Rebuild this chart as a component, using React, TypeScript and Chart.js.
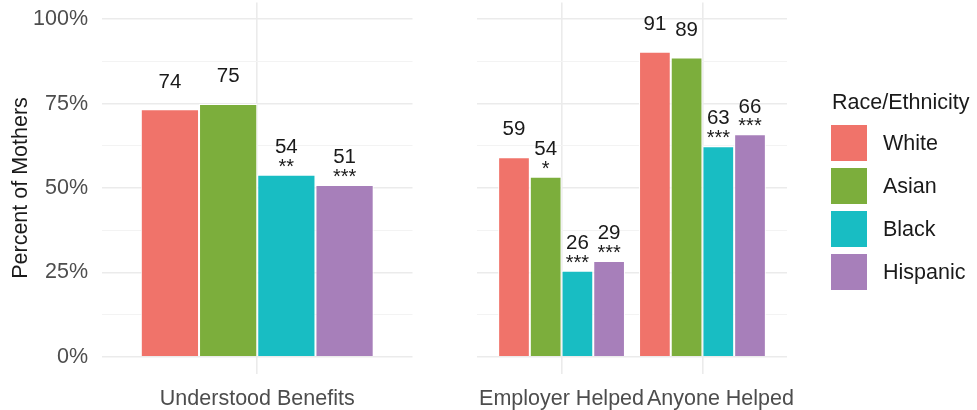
import React, { useEffect, useRef } from 'react';
import { Chart, registerables } from 'chart.js';

Chart.register(...registerables);

// ---------- data ----------
const groups = ['White', 'Asian', 'Black', 'Hispanic'];
const groupColors = ['#F0736A', '#7CAE3C', '#18BDC3', '#A77FBA'];

const leftCategories = ['Understood Benefits'];
const rightCategories = ['Employer Helped', 'Anyone Helped'];

// bar heights (percent of mothers)
const understoodValues = [73.3, 74.9, 53.9, 50.9];
const employerValues = [59.1, 53.3, 25.5, 28.4];
const anyoneValues = [90.4, 88.7, 62.4, 65.9];

// printed value labels and significance stars
const understoodLabels = ['74', '75', '54', '51'];
const understoodStars = ['', '', '**', '***'];
const employerLabels = ['59', '54', '26', '29'];
const employerStars = ['', '*', '***', '***'];
const anyoneLabels = ['91', '89', '63', '66'];
const anyoneStars = ['', '', '***', '***'];

const yTickValues = [0, 12.5, 25, 37.5, 50, 62.5, 75, 87.5, 100];
const yMajorStep = 25;
const yMin = -5;
const yMax = 105;
const yTitle = 'Percent of Mothers';
const legendTitle = 'Race/Ethnicity';

// ---------- styles ----------
const FONT = '"Liberation Sans", Arial, Helvetica, sans-serif';
const MAJOR = '#ebebeb';
const MINOR = '#f3f3f3';
const TICK_COLOR = '#4d4d4d';
const TEXT_COLOR = '#1a1a1a';

const isMajor = (v: number) => Math.abs(v % yMajorStep) < 1e-9;

const valueLabelPlugin = {
  id: 'valueLabels',
  afterDatasetsDraw(chart: any) {
    const ctx = chart.ctx;
    ctx.save();
    ctx.fillStyle = TEXT_COLOR;
    ctx.textAlign = 'center';
    ctx.textBaseline = 'middle';
    chart.data.datasets.forEach((ds: any, di: number) => {
      const meta = chart.getDatasetMeta(di);
      meta.data.forEach((bar: any, i: number) => {
        const { x, y } = bar.getProps(['x', 'y'], true);
        ctx.font = `20.5px ${FONT}`;
        ctx.fillText(ds.valueLabels[i], x, y - 27.5);
        if (ds.stars[i]) {
          ctx.font = `20px ${FONT}`;
          ctx.fillText(ds.stars[i], x, y - 7.5);
        }
      });
    });
    ctx.restore();
  },
};

const sideLegendPlugin = {
  id: 'sideLegend',
  afterDraw(chart: any) {
    const ctx = chart.ctx;
    const x0 = chart.chartArea.right + 44;
    ctx.save();
    ctx.textBaseline = 'middle';
    ctx.textAlign = 'left';
    ctx.fillStyle = TEXT_COLOR;
    ctx.font = `21.5px ${FONT}`;
    ctx.fillText(legendTitle, x0 + 1, 103);
    chart.data.datasets.forEach((ds: any, i: number) => {
      const top = 125 + i * 43;
      ctx.fillStyle = ds.backgroundColor;
      ctx.fillRect(x0, top, 36, 36);
      ctx.fillStyle = TEXT_COLOR;
      ctx.fillText(ds.label, x0 + 52, top + 19);
    });
    ctx.restore();
  },
};

const tickFont = { family: FONT, size: 21.5 };

const yScale = (showLabels: boolean, width: number) => ({
  min: yMin,
  max: yMax,
  afterBuildTicks: (s: any) => {
    s.ticks = yTickValues.map((v) => ({ value: v }));
  },
  afterFit: (s: any) => {
    s.width = width;
    s.paddingTop = 0;
    s.paddingBottom = 0;
  },
  border: { display: false },
  grid: {
    drawTicks: false,
    color: (c: any) => (c.tick && isMajor(c.tick.value) ? MAJOR : MINOR),
    lineWidth: (c: any) => (c.tick && isMajor(c.tick.value) ? 1.6 : 1),
  },
  ticks: {
    display: showLabels,
    padding: 14,
    color: TICK_COLOR,
    font: tickFont,
    callback: (v: any) => (isMajor(Number(v)) ? `${v}%` : ''),
  },
  title: {
    display: showLabels,
    text: yTitle,
    color: TEXT_COLOR,
    font: { family: FONT, size: 21.5 },
    padding: { top: 8, bottom: 0 },
  },
});

const xGrid = { drawTicks: false, color: MAJOR, lineWidth: 1.6, offset: false };
const xTicks = {
  color: TICK_COLOR,
  font: tickFont,
  padding: 12.5,
  maxRotation: 0,
  minRotation: 0,
  autoSkip: false,
};

function LeftPanel() {
  const ref = useRef<HTMLCanvasElement | null>(null);
  useEffect(() => {
    if (!ref.current) return;
    const datasets = groups.map((g, i) => ({
      label: g,
      data: [understoodValues[i]],
      valueLabels: [understoodLabels[i]],
      stars: [understoodStars[i]],
      backgroundColor: groupColors[i],
      borderColor: '#ffffff',
      borderWidth: 1,
      categoryPercentage: 0.75,
      barPercentage: 1,
    }));
    const chart = new Chart(ref.current, {
      type: 'bar',
      data: { labels: leftCategories, datasets: datasets as any },
      options: {
        responsive: false,
        animation: false,
        layout: { padding: { top: 2.4, right: 7.5, bottom: 0, left: 0 } },
        plugins: { legend: { display: false }, tooltip: { enabled: false } },
        scales: {
          x: {
            type: 'category',
            offset: true,
            border: { display: false },
            grid: xGrid,
            ticks: xTicks,
            afterFit: (s: any) => {
              s.height = 36.4;
              s.paddingLeft = 0;
              s.paddingRight = 0;
            },
          } as any,
          y: yScale(true, 102) as any,
        },
      },
      plugins: [valueLabelPlugin],
    });
    return () => chart.destroy();
  }, []);
  return (
    <canvas
      ref={ref}
      width={420}
      height={410}
      style={{ position: 'absolute', left: 0, top: 0 }}
    />
  );
}

function RightPanel() {
  const ref = useRef<HTMLCanvasElement | null>(null);
  useEffect(() => {
    if (!ref.current) return;
    const datasets = groups.map((g, i) => ({
      label: g,
      data: [
        { x: 1, y: employerValues[i] },
        { x: 2, y: anyoneValues[i] },
      ],
      valueLabels: [employerLabels[i], anyoneLabels[i]],
      stars: [employerStars[i], anyoneStars[i]],
      backgroundColor: groupColors[i],
      borderColor: '#ffffff',
      borderWidth: 1,
      categoryPercentage: 0.9,
      barPercentage: 1,
    }));
    const chart = new Chart(ref.current, {
      type: 'bar',
      data: { datasets: datasets as any },
      options: {
        responsive: false,
        animation: false,
        layout: { padding: { top: 2.4, right: 190, bottom: 0, left: 57 } },
        plugins: { legend: { display: false }, tooltip: { enabled: false } },
        scales: {
          x: {
            type: 'linear',
            min: 0.4,
            max: 2.6,
            offset: false,
            weight: 1,
            border: { display: false },
            grid: xGrid,
            ticks: { ...xTicks, callback: (v: any) => rightCategories[Number(v) - 1] },
            afterBuildTicks: (s: any) => {
              s.ticks = [{ value: 1 }];
            },
            afterFit: (s: any) => {
              s.height = 36.4;
              s.paddingLeft = 0;
              s.paddingRight = 0;
            },
          } as any,
          x2: {
            type: 'linear',
            position: 'bottom',
            min: 0.4,
            max: 2.6,
            offset: false,
            weight: -1,
            border: { display: false },
            grid: xGrid,
            ticks: {
              ...xTicks,
              mirror: true,
              padding: -37.9,
              labelOffset: 18,
              callback: (v: any) => rightCategories[Number(v) - 1],
            },
            afterBuildTicks: (s: any) => {
              s.ticks = [{ value: 2 }];
            },
            afterFit: (s: any) => {
              s.height = 0;
              s.paddingLeft = 0;
              s.paddingRight = 0;
            },
          } as any,
          y: yScale(false, 0) as any,
        },
      },
      plugins: [valueLabelPlugin, sideLegendPlugin],
    });
    return () => chart.destroy();
  }, []);
  return (
    <canvas
      ref={ref}
      width={557}
      height={410}
      style={{ position: 'absolute', left: 420, top: 0 }}
    />
  );
}

export default function App() {
  return (
    <div
      style={{
        position: 'absolute',
        left: 0,
        top: 0,
        width: 977,
        height: 410,
        background: '#ffffff',
        overflow: 'hidden',
      }}
    >
      <LeftPanel />
      <RightPanel />
    </div>
  );
}
